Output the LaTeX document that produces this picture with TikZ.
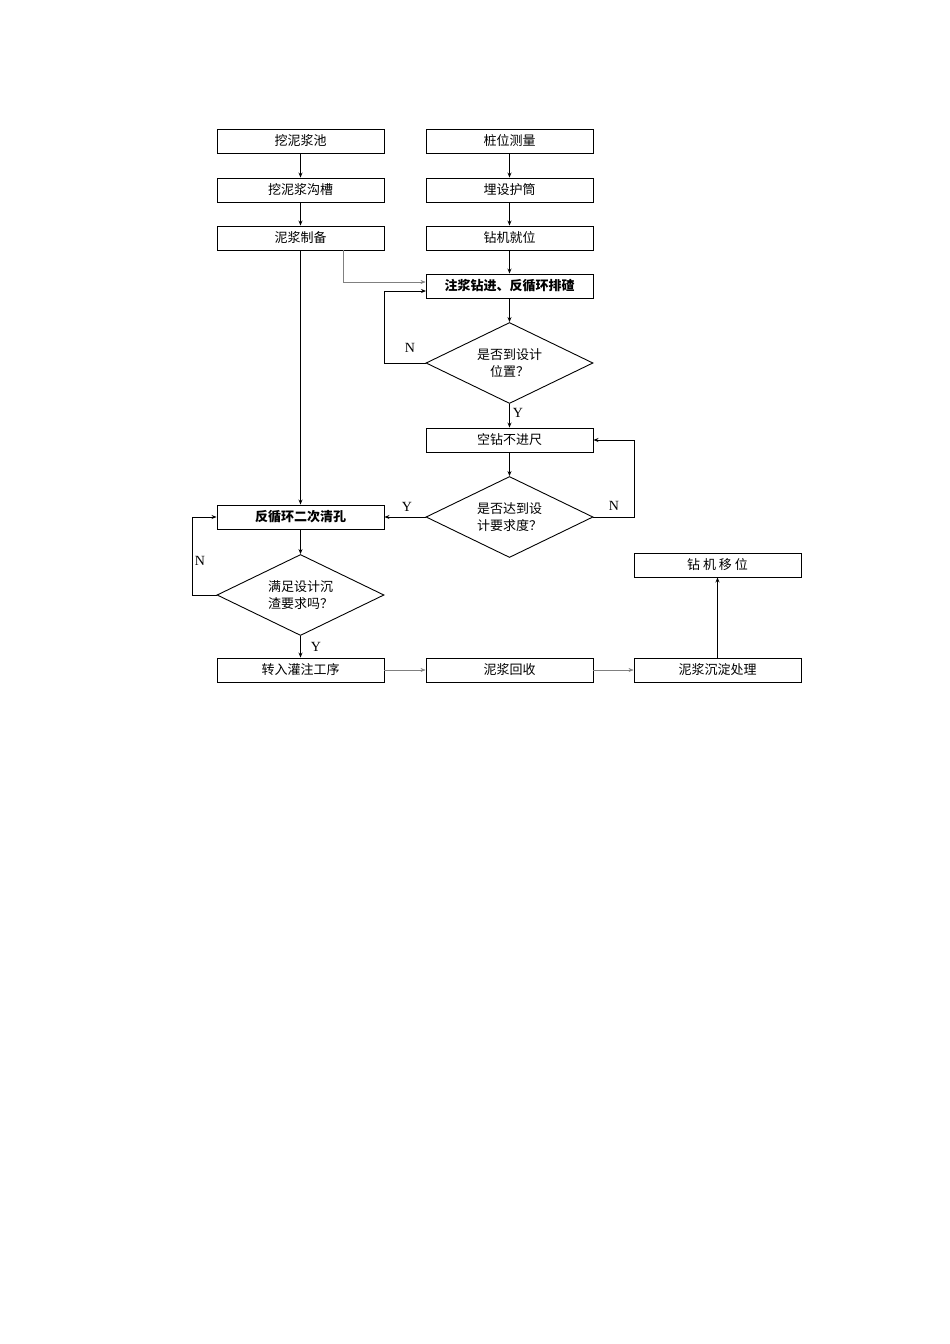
\documentclass[tikz,border=0pt]{standalone}
\usepackage{fontspec}
\setmainfont{Liberation Serif}
\newfontfamily\cjk{Noto Sans CJK SC}
\usetikzlibrary{shapes.geometric,arrows.meta}
\begin{document}
\begin{tikzpicture}[x=1pt,y=-1pt,
  box/.style={draw,line width=0.9pt,minimum width=167pt,minimum height=24pt,inner sep=0pt,font=\cjk\fontsize{13}{15}\selectfont},
  bbox/.style={box,font=\cjk\bfseries\fontsize{13}{15}\selectfont},
  dia/.style={draw,line width=0.9pt,diamond,aspect=2.06,minimum width=167pt,minimum height=81pt,inner sep=0pt,align=center,font=\cjk\fontsize{13}{17}\selectfont},
  ar/.style={-{Stealth[length=5pt,width=4pt]},line width=0.9pt},
  gar/.style={-{Stealth[length=5pt,width=4pt]},line width=0.5pt,gray},
  lab/.style={font=\fontsize{14}{16}\selectfont}]
\useasboundingbox (0,0) rectangle (950,1344);
\node[box] (a1) at (300.5,141) {挖泥浆池};
\node[box] (a2) at (300.5,190) {挖泥浆沟槽};
\node[box] (a3) at (300.5,238) {泥浆制备};
\node[box] (b1) at (509.5,141) {桩位测量};
\node[box] (b2) at (509.5,190) {埋设护筒};
\node[box] (b3) at (509.5,238) {钻机就位};
\node[bbox] (b4) at (509.5,286) {注浆钻进、反循环排碴};
\node[dia] (d1) at (509.5,363) {是否到设计\\位置？};
\node[box] (b5) at (509.5,440) {空钻不进尺};
\node[dia] (d2) at (509.5,517) {是否达到设\\计要求度？};
\node[bbox] (a4) at (300.5,517) {反循环二次清孔};
\node[dia] (d3) at (300.5,595) {满足设计沉\\渣要求吗？};
\node[box] (a5) at (300.5,670) {转入灌注工序};
\node[box] (b6) at (509.5,670) {泥浆回收};
\node[box] (c1) at (717.5,670) {泥浆沉淀处理};
\node[box] (c2) at (717.5,565) {钻\ 机\ 移\ 位};
\coordinate (g1) at (343,250);
\coordinate (g2) at (343,282);
\draw[ar] (a1) -- (a2);
\draw[ar] (a2) -- (a3);
\draw[ar] (b1) -- (b2);
\draw[ar] (b2) -- (b3);
\draw[ar] (b3) -- (b4);
\draw[gar] (g1) -- (g2) -- (g2 -| b4.west);
\draw[ar] (b4) -- (d1);
\draw[ar] (d1.west) -- (384,363) -- (384,291) -- (426,291);
\draw[ar] (d1) -- (b5);
\draw[ar] (b5) -- (d2);
\draw[ar] (d2.east) -- (634,517) -- (634,440) -- (b5.east);
\draw[ar] (d2.west) -- (a4.east);
\draw[ar] (a3) -- (a4);
\draw[ar] (a4) -- (d3);
\draw[ar] (d3.west) -- (192,595) -- (192,517) -- (a4.west);
\draw[ar] (d3) -- (a5);
\draw[gar] (a5) -- (b6);
\draw[gar] (b6) -- (c1);
\draw[ar] (c1) -- (c2);
\node[lab] (n1) at (410,348) {N};
\node[lab] (y1) at (518,413) {Y};
\node[lab] (y2) at (407,507) {Y};
\node[lab] (n2) at (614,506) {N};
\node[lab] (n3) at (200,561) {N};
\node[lab] (y3) at (316,647) {Y};
\end{tikzpicture}
\end{document}
